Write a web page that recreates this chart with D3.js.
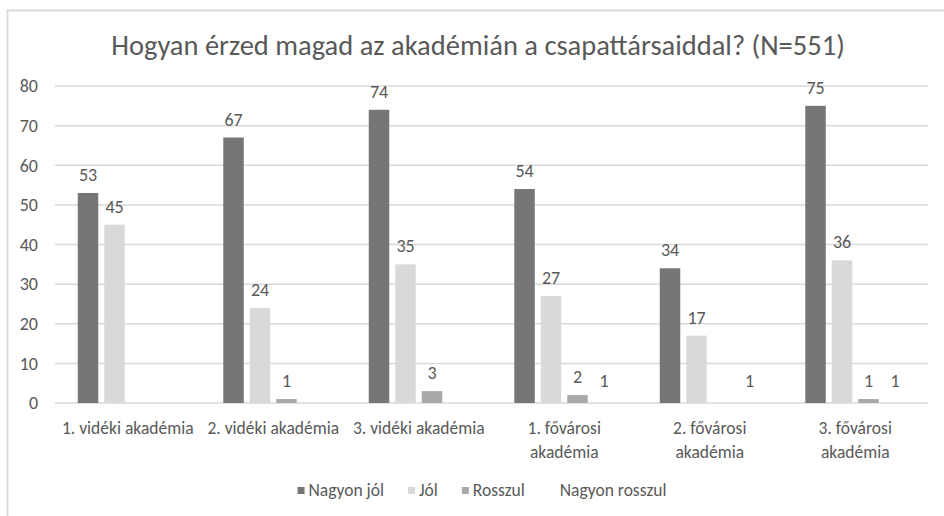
<!DOCTYPE html>
<html>
<head>
<meta charset="utf-8">
<script src="https://cdn.jsdelivr.net/npm/d3@7"></script>
<style>
  html, body { margin: 0; padding: 0; background: #fff; }
  svg { display: block; }
  text { font-family: Carlito, Lato, "Open Sans", sans-serif; fill: #595959; }
</style>
</head>
<body>
<div id="chart"></div>
<script>
const title = "Hogyan érzed magad az akadémián a csapattársaiddal? (N=551)";
const categories = ["1. vidéki akadémia", "2. vidéki akadémia", "3. vidéki akadémia", "1. fővárosi akadémia", "2. fővárosi akadémia", "3. fővárosi akadémia"];
const categoryLines = [["1. vidéki akadémia"], ["2. vidéki akadémia"], ["3. vidéki akadémia"], ["1. fővárosi", "akadémia"], ["2. fővárosi", "akadémia"], ["3. fővárosi", "akadémia"]];
const seriesNames = ["Nagyon jól", "Jól", "Rosszul", "Nagyon rosszul"];
const nagyonJol = [53, 67, 74, 54, 34, 75];
const jol = [45, 24, 35, 27, 17, 36];
const rosszul = [null, 1, 3, 2, null, 1];
const nagyonRosszul = [null, null, null, 1, 1, 1];
const yTicks = [0, 10, 20, 30, 40, 50, 60, 70, 80];
const colors = ["#767676", "#d9d9d9", "#a9a9a9", "none"];

const seriesValues = [nagyonJol, jol, rosszul, nagyonRosszul];

const W = 944, H = 516;
const plotLeft = 55, plotRight = 928, plotTop = 86, plotBottom = 403;

const svg = d3.select("#chart").append("svg").attr("width", W).attr("height", H);

// chart border
svg.append("rect").attr("x", 7.5).attr("y", 10.5).attr("width", W + 10).attr("height", H + 10)
  .attr("fill", "#fff").attr("stroke", "#d9d9d9").attr("stroke-width", 2);

// title
svg.append("text").attr("x", 478).attr("y", 55).attr("text-anchor", "middle")
  .style("font-size", "28.5px").text(title);

const y = d3.scaleLinear().domain([0, 80]).range([plotBottom, plotTop]);
const x0 = d3.scaleBand().domain(categories).range([plotLeft, plotRight]).paddingInner(0.313).paddingOuter(0.1565);
const x1 = d3.scaleBand().domain(seriesNames).range([0, x0.bandwidth()]).paddingInner(0.226).paddingOuter(0);

// gridlines
svg.append("g").selectAll("line").data(yTicks).join("line")
  .attr("x1", plotLeft).attr("x2", plotRight)
  .attr("y1", d => y(d)).attr("y2", d => y(d))
  .attr("stroke", "#d9d9d9").attr("stroke-width", 1.5);

// y axis
const yAxis = svg.append("g").attr("transform", `translate(${plotLeft},0)`)
  .call(d3.axisLeft(y).tickValues(yTicks).tickSize(0).tickPadding(17));
yAxis.select(".domain").remove();
yAxis.selectAll("text").style("font-size", "18px").attr("fill", "#595959")
  .style("font-family", "Carlito, Lato, 'Open Sans', sans-serif");

// bars
const groups = svg.append("g").selectAll("g").data(categories).join("g")
  .attr("transform", d => `translate(${x0(d)},0)`);

const cells = groups.selectAll("g.cell")
  .data((c, i) => seriesNames.map((s, j) => ({ s, j, v: seriesValues[j][i] })).filter(d => d.v !== null))
  .join("g").attr("class", "cell");

cells.append("rect")
  .attr("x", d => x1(d.s)).attr("width", x1.bandwidth())
  .attr("y", d => y(d.v)).attr("height", d => y(0) - y(d.v))
  .attr("fill", d => colors[d.j]);

cells.append("text")
  .attr("x", d => x1(d.s) + x1.bandwidth() / 2)
  .attr("y", d => y(d.v) - 12)
  .attr("text-anchor", "middle")
  .style("font-size", "18px")
  .text(d => d.v);

// x axis category labels
const xl = svg.append("g").selectAll("text").data(categories).join("text")
  .attr("x", d => x0(d) + x0.bandwidth() / 2)
  .attr("y", 434)
  .attr("text-anchor", "middle")
  .style("font-size", "17.5px");
xl.each(function(d, i) {
  const t = d3.select(this);
  categoryLines[i].forEach((line, k) => {
    t.append("tspan").attr("x", x0(d) + x0.bandwidth() / 2).attr("dy", k === 0 ? 0 : 24).text(line);
  });
});

// legend
const legend = svg.append("g");
const items = legend.selectAll("g").data(seriesNames).join("g");
items.append("rect").attr("width", 7).attr("height", 7).attr("y", -9)
  .attr("fill", (d, i) => colors[i]);
items.append("text").attr("x", 11).attr("y", 0).style("font-size", "17.5px").text(d => d);
let cx = 0;
items.each(function() {
  const w = this.getBBox().width;
  d3.select(this).attr("transform", `translate(${cx},0)`);
  cx += w + 24;
});
const total = cx - 24;
legend.attr("transform", `translate(${482 - total / 2},496)`);
</script>
</body>
</html>
